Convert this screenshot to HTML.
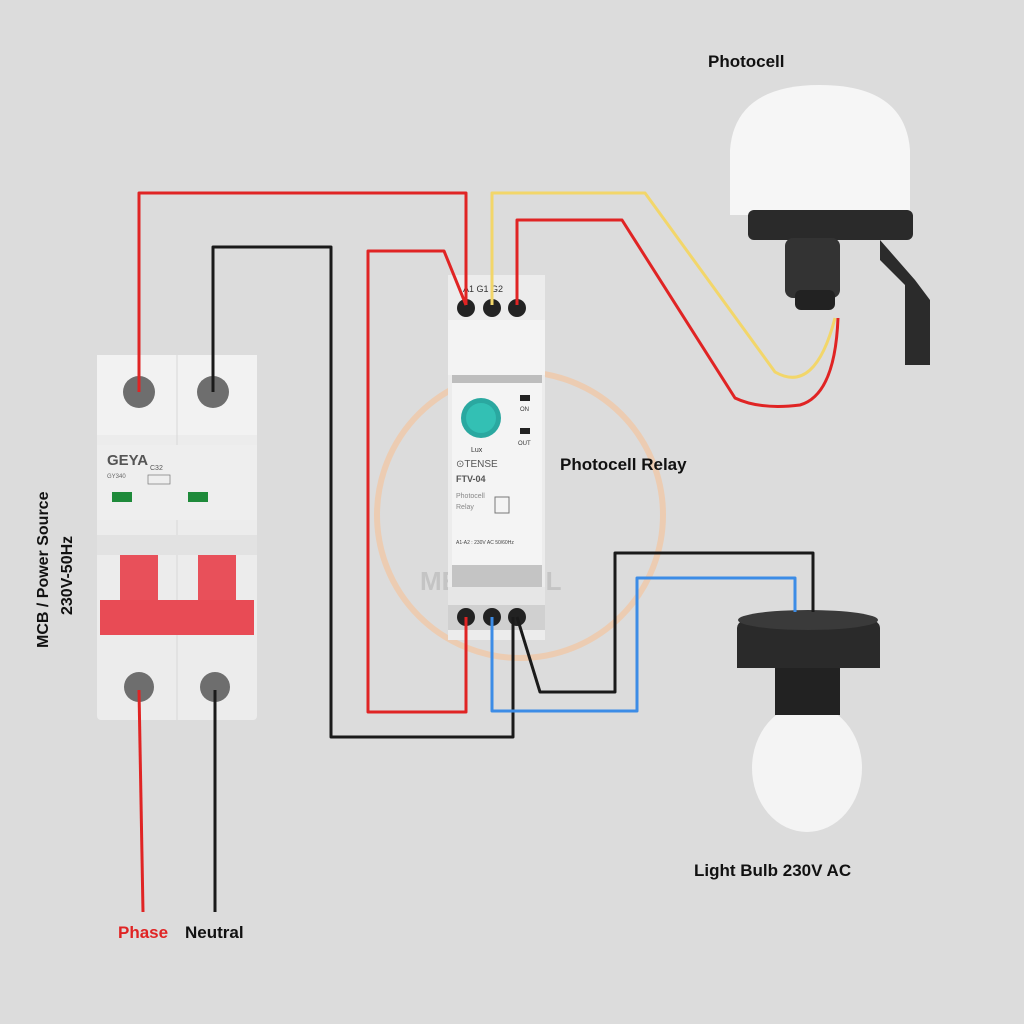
<!DOCTYPE html>
<html><head><style>
html,body{margin:0;padding:0;background:#dcdcdc;}
svg{display:block}
text{font-family:"Liberation Sans",sans-serif}
</style></head><body>
<svg width="1024" height="1024" viewBox="0 0 1024 1024">
<rect width="1024" height="1024" fill="#dcdcdc"/>
<circle cx="520" cy="515" r="143" fill="none" stroke="#f0c8a8" stroke-width="6" opacity="0.8"/>
<text x="420" y="590" font-size="26" fill="#c4c4c4" font-weight="bold">ME       TRICAL</text>

<rect x="97" y="355" width="160" height="365" rx="4" fill="#ececec"/>
<rect x="97" y="355" width="160" height="80" fill="#f2f2f2"/>
<line x1="177" y1="355" x2="177" y2="720" stroke="#d8d8d8"/>
<rect x="97" y="445" width="160" height="75" fill="#eeeeee"/>
<text x="107" y="465" font-size="15" font-weight="bold" fill="#555">GEYA</text>
<text x="107" y="478" font-size="6" fill="#666">GY340</text>
<text x="150" y="470" font-size="7" fill="#555">C32</text>
<rect x="148" y="475" width="22" height="9" fill="none" stroke="#777" stroke-width="0.7"/>
<rect x="112" y="492" width="20" height="10" fill="#1e8a3a"/>
<rect x="188" y="492" width="20" height="10" fill="#1e8a3a"/>
<rect x="97" y="535" width="160" height="20" fill="#e2e2e2"/>
<rect x="120" y="555" width="38" height="50" fill="#e8505a"/>
<rect x="198" y="555" width="38" height="50" fill="#e8505a"/>
<rect x="100" y="600" width="154" height="35" fill="#e84b55"/>
<circle cx="139" cy="392" r="16" fill="#6e6e6e"/><circle cx="213" cy="392" r="16" fill="#6e6e6e"/>
<circle cx="139" cy="687" r="15" fill="#6e6e6e"/><circle cx="215" cy="687" r="15" fill="#6e6e6e"/>

<rect x="448" y="275" width="97" height="365" fill="#ececec"/>
<rect x="448" y="320" width="97" height="55" fill="#f3f3f3"/>
<rect x="452" y="375" width="90" height="8" fill="#bdbdbd"/>
<rect x="452" y="383" width="90" height="182" fill="#f4f4f4"/>
<rect x="452" y="565" width="90" height="22" fill="#c4c4c4"/>
<rect x="448" y="587" width="97" height="20" fill="#e6e6e6"/>
<rect x="448" y="605" width="97" height="25" fill="#d0d0d0"/>
<circle cx="481" cy="418" r="20" fill="#2aa8a0"/>
<circle cx="481" cy="418" r="15" fill="#33c0b4"/>
<text x="471" y="452" font-size="7" fill="#333">Lux</text>
<rect x="520" y="395" width="10" height="6" fill="#222"/><text x="520" y="411" font-size="6" fill="#333">ON</text>
<rect x="520" y="428" width="10" height="6" fill="#222"/><text x="518" y="445" font-size="6" fill="#333">OUT</text>
<text x="456" y="467" font-size="10" fill="#555">⊙TENSE</text>
<text x="456" y="482" font-size="9" font-weight="bold" fill="#555">FTV-04</text>
<text x="456" y="498" font-size="7" fill="#888">Photocell</text>
<text x="456" y="509" font-size="7" fill="#888">Relay</text>
<rect x="495" y="497" width="14" height="16" fill="none" stroke="#777"/>
<text x="456" y="544" font-size="5" fill="#444">A1-A2 : 230V AC 50/60Hz</text>
<text x="463" y="292" font-size="9" fill="#333">A1  G1  G2</text>
<circle cx="466" cy="308" r="9" fill="#222"/><circle cx="492" cy="308" r="9" fill="#222"/><circle cx="517" cy="308" r="9" fill="#222"/>
<circle cx="466" cy="617" r="9" fill="#222"/><circle cx="492" cy="617" r="9" fill="#222"/><circle cx="517" cy="617" r="9" fill="#222"/>

<path d="M730 215 L730 150 Q735 85 820 85 Q905 85 910 150 L910 215 Z" fill="#f6f6f6"/>
<rect x="748" y="210" width="165" height="30" rx="6" fill="#2a2a2a"/>
<rect x="785" y="238" width="55" height="60" rx="8" fill="#333"/>
<rect x="795" y="290" width="40" height="20" rx="6" fill="#222"/>
<path d="M880 240 L915 280 L930 300 L930 365 L905 365 L905 285 L880 260 Z" fill="#2b2b2b"/>

<ellipse cx="807" cy="768" rx="55" ry="64" fill="#f4f4f4"/>
<rect x="775" y="665" width="65" height="50" fill="#222"/>
<path d="M737 628 Q737 612 808 612 Q880 612 880 628 L880 668 L737 668 Z" fill="#2a2a2a"/>
<ellipse cx="808" cy="620" rx="70" ry="10" fill="#3a3a3a"/>

<g fill="none" stroke-width="3" stroke-linejoin="round">
<polyline points="139,392 139,193 466,193 466,305" stroke="#e02424"/>
<polyline points="213,392 213,247 331,247 331,737 513,737 513,617" stroke="#1a1a1a"/>
<polyline points="466,617 466,712 368,712 368,251 444,251 466,305" stroke="#e02424"/>
<path d="M492,305 L492,193 L645,193 L775,372 Q815,395 835,318" stroke="#f2d66a"/>
<path d="M517,305 L517,220 L622,220 L735,398 Q760,410 800,405 Q835,395 838,318" stroke="#e02424"/>
<polyline points="492,617 492,711 637,711 637,578 795,578 795,612" stroke="#3c8ce6"/>
<polyline points="517,617 540,692 615,692 615,553 813,553 813,612" stroke="#1a1a1a"/>
<polyline points="139,690 143,912" stroke="#e02424"/>
<polyline points="215,690 215,912" stroke="#1a1a1a"/>
</g>

<text x="708" y="67" font-size="17" font-weight="bold" fill="#111">Photocell</text>
<text x="560" y="470" font-size="17" font-weight="bold" fill="#111">Photocell Relay</text>
<text x="694" y="876" font-size="17" font-weight="bold" fill="#111">Light Bulb 230V AC</text>
<text x="118" y="938" font-size="17" font-weight="bold" fill="#e02424">Phase</text>
<text x="185" y="938" font-size="17" font-weight="bold" fill="#111">Neutral</text>
<text transform="translate(48,648) rotate(-90)" font-size="16" font-weight="bold" fill="#111">MCB / Power Source</text>
<text transform="translate(72,615) rotate(-90)" font-size="16" font-weight="bold" fill="#111">230V-50Hz</text>
</svg>
</body></html>
